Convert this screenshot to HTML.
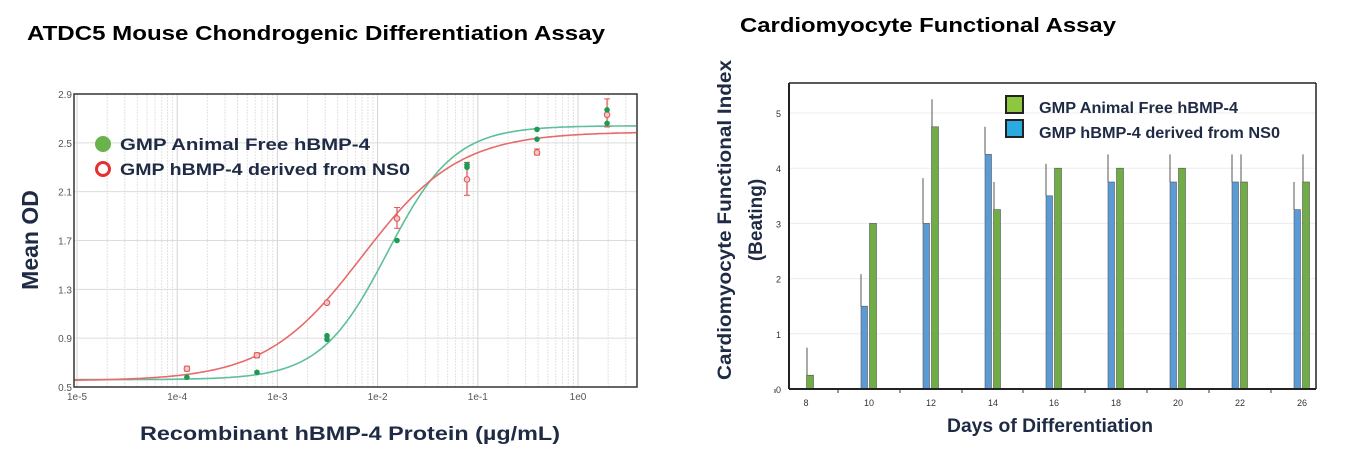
<!DOCTYPE html>
<html><head><meta charset="utf-8"><style>
html,body{margin:0;padding:0;background:#fff;}
svg{display:block;font-family:"Liberation Sans",Arial,sans-serif;}
</style></head><body>
<svg id="s" width="1349" height="470" viewBox="0 0 1349 470" xmlns="http://www.w3.org/2000/svg">
<text x="27" y="40" font-size="20" font-weight="bold" fill="#000" textLength="578" lengthAdjust="spacingAndGlyphs">ATDC5 Mouse Chondrogenic Differentiation Assay</text>
<text x="740" y="32" font-size="20" font-weight="bold" fill="#000" textLength="376" lengthAdjust="spacingAndGlyphs">Cardiomyocyte Functional Assay</text>
<g id="L"></g>
<g id="R"></g>
<text transform="translate(38,240) rotate(-90)" text-anchor="middle" font-size="23" font-weight="bold" fill="#1f2a44">Mean OD</text>
<text x="350" y="440" text-anchor="middle" font-size="19" font-weight="bold" fill="#1f2a44" textLength="420" lengthAdjust="spacingAndGlyphs">Recombinant hBMP-4 Protein (µg/mL)</text>
<text transform="translate(731,220) rotate(-90)" text-anchor="middle" font-size="19" font-weight="bold" fill="#1f2a44" textLength="320" lengthAdjust="spacingAndGlyphs">Cardiomyocyte Functional Index</text>
<text transform="translate(762,220) rotate(-90)" text-anchor="middle" font-size="19" font-weight="bold" fill="#1f2a44">(Beating)</text>
<text x="1050" y="432" text-anchor="middle" font-size="19" font-weight="bold" fill="#1f2a44" textLength="206" lengthAdjust="spacingAndGlyphs">Days of Differentiation</text>
</svg>
<script>
var NS="http://www.w3.org/2000/svg";
function el(p,t,a,txt){var e=document.createElementNS(NS,t);for(var k in a)e.setAttribute(k,a[k]);if(txt!=null)e.textContent=txt;p.appendChild(e);return e;}
var L=document.getElementById("L");
var x0=77,dec=100.2,bl=74,br=637,yt=94,yb=387;
function X(v){return x0+(Math.log10(v)+5)*dec;}
function Y(v){return yb-(v-0.5)/2.4*(yb-yt);}
el(L,"rect",{x:bl,y:yt,width:br-bl,height:yb-yt,fill:"#fff"});
for(var d=-5;d<=0;d++)for(var m=1;m<=9;m++){var xx=X(m*Math.pow(10,d));if(xx<bl||xx>br)continue;el(L,"line",{x1:xx,x2:xx,y1:yt,y2:yb,stroke:m==1?"#d4d4d4":"#e2e2e2","stroke-width":1,"stroke-dasharray":m==1?"":"2,1"});}
for(var v=0.5;v<=2.91;v+=0.4){var yy=Y(v);el(L,"line",{x1:bl,x2:br,y1:yy,y2:yy,stroke:"#dcdcdc"});el(L,"text",{x:bl-2,y:yy+4,"text-anchor":"end","font-size":10,fill:"#555"},v.toFixed(1));}
["1e-5","1e-4","1e-3","1e-2","1e-1","1e0"].forEach(function(t,i){el(L,"text",{x:x0+i*dec,y:yb+13,"text-anchor":"middle","font-size":10,fill:"#555"},t);});
function curve(b,t,ec,h,col){var d="";for(var px=bl;px<=br;px+=2){var c=Math.pow(10,(px-x0)/dec-5);var y=b+(t-b)/(1+Math.pow(ec/c,h));d+=(d?"L":"M")+px+","+Y(y).toFixed(1);}el(L,"path",{d:d,fill:"none",stroke:col,"stroke-width":1.6});}
curve(0.56,2.64,0.0125,1.3,"#5fbf9a");
curve(0.55,2.59,0.007,0.9,"#e86a6a");
var xs=[1.25e-4,6.25e-4,3.125e-3,1.5625e-2,7.8e-2,0.39,1.95];
var red=[[0.65,0.63,0.67],[0.76,0.74,0.78],[1.19,1.18,1.20],[1.88,1.80,1.97],[2.20,2.07,2.34],[2.42,2.40,2.45],[2.73,2.63,2.86]];
red.forEach(function(r,i){var x=X(xs[i]);el(L,"line",{x1:x,x2:x,y1:Y(r[1]),y2:Y(r[2]),stroke:"#d55",'stroke-width':1.2});el(L,"line",{x1:x-3,x2:x+3,y1:Y(r[1]),y2:Y(r[1]),stroke:"#d55"});el(L,"line",{x1:x-3,x2:x+3,y1:Y(r[2]),y2:Y(r[2]),stroke:"#d55"});el(L,"circle",{cx:x,cy:Y(r[0]),r:2.8,fill:"#f7c6c6",stroke:"#d55"});});
var gr=[[0.58],[0.62],[0.92,0.89],[1.70],[2.32,2.30],[2.61,2.53],[2.77,2.66]];
gr.forEach(function(g,i){g.forEach(function(v){el(L,"circle",{cx:X(xs[i]),cy:Y(v),r:2.8,fill:"#1e9a55"});});});
el(L,"rect",{x:bl,y:yt,width:br-bl,height:yb-yt,fill:"none",stroke:"#333","stroke-width":1.5});
el(L,"circle",{cx:103,cy:144,r:8,fill:"#6ab24a"});
el(L,"circle",{cx:103,cy:169,r:6.5,fill:"#fff",stroke:"#e53030","stroke-width":3});
el(L,"text",{x:120,y:150,"font-size":17,"font-weight":"bold",fill:"#1f2a44",textLength:250,lengthAdjust:"spacingAndGlyphs"},"GMP Animal  Free  hBMP-4");
el(L,"text",{x:120,y:175,"font-size":17,"font-weight":"bold",fill:"#1f2a44",textLength:290,lengthAdjust:"spacingAndGlyphs"},"GMP hBMP-4 derived from NS0");
var R=document.getElementById("R");
var rl=789,rr=1316,rt=83,rb=389,u=(rb-113)/5;
function RY(v){return rb-v*u;}
el(R,"rect",{x:rl,y:rt,width:rr-rl,height:rb-rt,fill:"#fff"});
for(var i=1;i<=5;i++){el(R,"line",{x1:rl,x2:rr,y1:RY(i),y2:RY(i),stroke:"#ececec"});}
for(var i=0;i<=5;i++)el(R,"text",{x:rl-8,y:RY(i)+4,"text-anchor":"end","font-size":9,fill:"#333"},i);
var lx=[806,869,931,993,1054,1116,1178,1240,1302],lab=[8,10,12,14,16,18,20,22,26];
var B=[null,1.5,3,4.25,3.5,3.75,3.75,3.75,3.25],Be=[null,2.08,3.82,4.75,4.08,4.25,4.25,4.25,3.75];
var G=[0.25,3,4.75,3.25,4,4,4,3.75,3.75],Ge=[0.75,null,5.25,3.75,null,null,null,4.25,4.25];
lx.forEach(function(x,i){
 el(R,"text",{x:x,y:rb+17,"text-anchor":"middle","font-size":9,fill:"#333"},lab[i]);
 el(R,"line",{x1:x-31,x2:x-31,y1:rb,y2:rb+4,stroke:"#333"});
 if(B[i]!=null){el(R,"rect",{x:x-8,y:RY(B[i]),width:6.5,height:B[i]*u,fill:"#5b9bd5",stroke:"#555","stroke-width":0.6});}
 if(Be[i]!=null){el(R,"line",{x1:x-8,x2:x-8,y1:RY(Be[i]),y2:RY(B[i]),stroke:"#555"});}
 el(R,"rect",{x:x+0.5,y:RY(G[i]),width:7,height:G[i]*u,fill:"#70ad47",stroke:"#555","stroke-width":0.6});
 if(Ge[i]!=null){el(R,"line",{x1:x+1,x2:x+1,y1:RY(Ge[i]),y2:RY(G[i]),stroke:"#555"});}
});
el(R,"line",{x1:rl,x2:rl,y1:rt,y2:rb,stroke:"#222","stroke-width":2});
el(R,"line",{x1:rl,x2:rr,y1:rb,y2:rb,stroke:"#222","stroke-width":2});
el(R,"line",{x1:rl,x2:rr,y1:rt,y2:rt,stroke:"#222","stroke-width":1.5});
el(R,"line",{x1:rr,x2:rr,y1:rt,y2:rb,stroke:"#222","stroke-width":1.5});
el(R,"rect",{x:1006,y:96,width:17,height:17,fill:"#8dc63f",stroke:"#222","stroke-width":2});
el(R,"rect",{x:1006,y:120,width:17,height:17,fill:"#29abe2",stroke:"#222","stroke-width":2});
el(R,"text",{x:1039,y:113,"font-size":16,"font-weight":"bold",fill:"#1f2a44",textLength:199,lengthAdjust:"spacingAndGlyphs"},"GMP Animal Free hBMP-4");
el(R,"text",{x:1039,y:138,"font-size":16,"font-weight":"bold",fill:"#1f2a44",textLength:241,lengthAdjust:"spacingAndGlyphs"},"GMP hBMP-4 derived from NS0");
</script>
</body></html>
